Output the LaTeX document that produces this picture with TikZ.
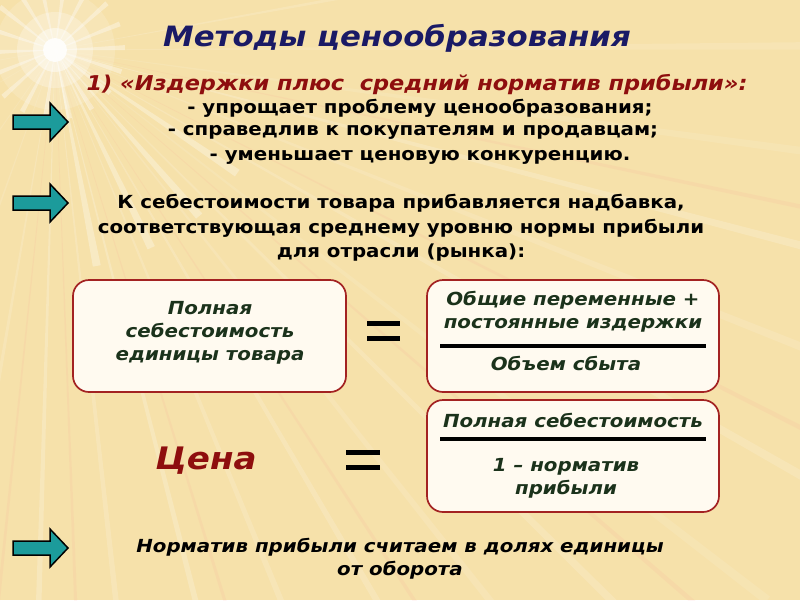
\documentclass[tikz,border=0pt]{standalone}
\usepackage{fontspec}
\setmainfont[FakeStretch=1.1]{DejaVu Sans}
\definecolor{bgc}{HTML}{F6E1AA}
\definecolor{titleblue}{HTML}{1A1A66}
\definecolor{darkred}{HTML}{8E0E0E}
\definecolor{boxred}{HTML}{A32222}
\definecolor{boxfill}{HTML}{FFFAF0}
\definecolor{dgreen}{HTML}{1B321B}
\definecolor{teal1}{HTML}{1C9B9B}
\begin{document}
\begin{tikzpicture}[x=1pt,y=-1pt,
  barrow/.style={draw=black, line width=1.5pt, fill=teal1, line join=miter},
  fbox/.style={draw=boxred, line width=1.7pt, fill=boxfill, rounded corners=16pt},
  btxt/.style={font=\bfseries\fontsize{18}{24.5}\selectfont, align=center, text=black},
  gtxt/.style={font=\bfseries\itshape\fontsize{18}{23}\selectfont, align=center, text=dgreen},
  eqbar/.style={line width=5pt, black},
  fracline/.style={line width=3.5pt, black}]
\useasboundingbox (0,0) rectangle (800,600);
% background
\fill[bgc] (0,0) rectangle (800,600);
\begin{scope}
\clip (0,0) rectangle (800,600);
\foreach \a/\o in {-10/0.15,0/0.12,8/0.1,15/0.18,22/0.12,30/0.15,38/0.1,45/0.14,52/0.12,60/0.16,68/0.14,76/0.2,84/0.16,92/0.2,100/0.15,110/0.12,125/0.12,150/0.1,170/0.12,200/0.1}{
  \fill[white,opacity=\o] (55,50) -- ++(\a-0.6:900) -- ++(\a+90:9) -- cycle;
}
\foreach \a in {12,27,41,57,73,88,96}{
  \fill[pink!70!red,opacity=0.08] (55,50) -- ++(\a-0.3:900) -- ++(\a+90:5) -- cycle;
}
\foreach \a in {0,20,...,340}{
  \fill[white,opacity=0.35] (55,50) -- ++(\a-4:70) -- ++(\a+90:5) -- cycle;
}
\foreach \a in {35,50,65,80}{
  \fill[white,opacity=0.3] (55,50) -- ++(\a-2:220) -- ++(\a+90:8) -- cycle;
}
\fill[white,opacity=0.15] (55,50) circle (60);
\fill[white,opacity=0.25] (55,50) circle (38);
\fill[white,opacity=0.45] (55,50) circle (22);
\fill[white,opacity=0.85] (55,50) circle (12);
\end{scope}
% title
\node[font=\bfseries\itshape\fontsize{28}{32}\selectfont, text=titleblue] (title) at (397,38) {Методы ценообразования};
\node[font=\bfseries\itshape\fontsize{20.4}{24}\selectfont, text=darkred] (m1) at (417,85) {1) «Издержки плюс\ \ средний норматив прибыли»:};
\node[btxt] (l1) at (420,108) {- упрощает проблему ценообразования;};
\node[btxt] (l2) at (413,132) {- справедлив к покупателям и продавцам;};
\node[btxt] (l3) at (420,157) {- уменьшает ценовую конкуренцию.};
% arrows
\foreach \n/\cy in {a1/122, a2/203, a3/548}{
  \coordinate (\n) at (40,\cy);
  \draw[barrow] ([shift={(-27,-7)}]\n) -- ([shift={(10,-7)}]\n) -- ([shift={(10,-19)}]\n)
     -- ([shift={(28,0)}]\n) -- ([shift={(10,19)}]\n) -- ([shift={(10,7)}]\n)
     -- ([shift={(-27,7)}]\n) -- cycle;
}
\node[btxt] (k) at (401,228) {К себестоимости товара прибавляется надбавка,\\соответствующая среднему уровню нормы прибыли\\для отрасли (рынка):};
% boxes
\draw[fbox] (73,280) rectangle (346,392);
\node[gtxt] (b1) at (210,333) {Полная\\себестоимость\\единицы товара};
\draw[eqbar] (367,323) -- (400,323) (367,338) -- (400,338);
\draw[fbox] (427,280) rectangle (719,392);
\node[gtxt] (n1) at (573,312) {Общие переменные +\\постоянные издержки};
\draw[fracline] (440,346) -- (706,346);
\node[gtxt] (d1) at (566,363) {Объем сбыта};
\node[font=\bfseries\itshape\fontsize{31}{34}\selectfont, text=darkred] (price) at (206,461) {Цена};
\draw[eqbar] (346,452) -- (380,452) (346,467) -- (380,467);
\draw[fbox] (427,400) rectangle (719,512);
\node[gtxt] (n2) at (573,420) {Полная себестоимость};
\draw[fracline] (440,439) -- (706,439);
\node[gtxt] (d2) at (566,478) {1 – норматив\\прибыли};
\node[font=\bfseries\itshape\fontsize{18}{23}\selectfont, align=center] (last) at (400,559) {Норматив прибыли считаем в долях единицы\\от оборота};
\end{tikzpicture}
\end{document}
